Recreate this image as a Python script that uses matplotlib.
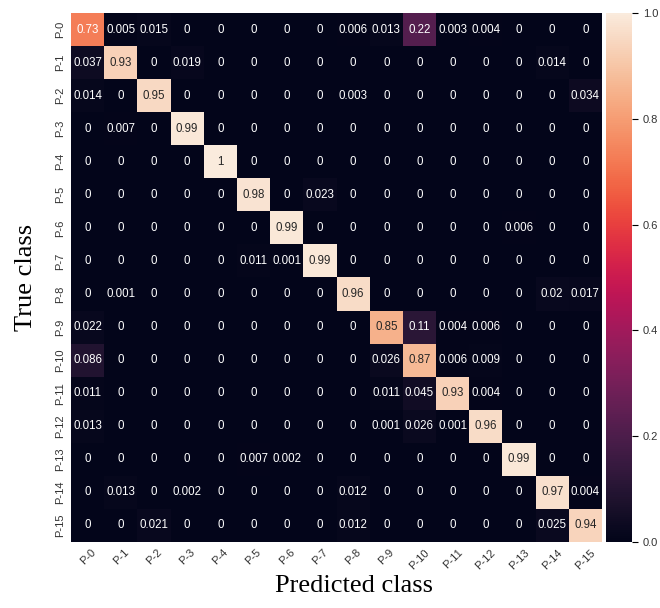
import numpy as np
import matplotlib
matplotlib.use("Agg")
import matplotlib.pyplot as plt
import seaborn as sns

labels = ["P-%d" % i for i in range(16)]

# confusion matrix rows = true class, cols = predicted class
row_p0 = [0.73, 0.005, 0.015, 0, 0, 0, 0, 0, 0.006, 0.013, 0.22, 0.003, 0.004, 0, 0, 0]
row_p1 = [0.037, 0.93, 0, 0.019, 0, 0, 0, 0, 0, 0, 0, 0, 0, 0, 0.014, 0]
row_p2 = [0.014, 0, 0.95, 0, 0, 0, 0, 0, 0.003, 0, 0, 0, 0, 0, 0, 0.034]
row_p3 = [0, 0.007, 0, 0.99, 0, 0, 0, 0, 0, 0, 0, 0, 0, 0, 0, 0]
row_p4 = [0, 0, 0, 0, 1, 0, 0, 0, 0, 0, 0, 0, 0, 0, 0, 0]
row_p5 = [0, 0, 0, 0, 0, 0.98, 0, 0.023, 0, 0, 0, 0, 0, 0, 0, 0]
row_p6 = [0, 0, 0, 0, 0, 0, 0.99, 0, 0, 0, 0, 0, 0, 0.006, 0, 0]
row_p7 = [0, 0, 0, 0, 0, 0.011, 0.001, 0.99, 0, 0, 0, 0, 0, 0, 0, 0]
row_p8 = [0, 0.001, 0, 0, 0, 0, 0, 0, 0.96, 0, 0, 0, 0, 0, 0.02, 0.017]
row_p9 = [0.022, 0, 0, 0, 0, 0, 0, 0, 0, 0.85, 0.11, 0.004, 0.006, 0, 0, 0]
row_p10 = [0.086, 0, 0, 0, 0, 0, 0, 0, 0, 0.026, 0.87, 0.006, 0.009, 0, 0, 0]
row_p11 = [0.011, 0, 0, 0, 0, 0, 0, 0, 0, 0.011, 0.045, 0.93, 0.004, 0, 0, 0]
row_p12 = [0.013, 0, 0, 0, 0, 0, 0, 0, 0, 0.001, 0.026, 0.001, 0.96, 0, 0, 0]
row_p13 = [0, 0, 0, 0, 0, 0.007, 0.002, 0, 0, 0, 0, 0, 0, 0.99, 0, 0]
row_p14 = [0, 0.013, 0, 0.002, 0, 0, 0, 0, 0.012, 0, 0, 0, 0, 0, 0.97, 0.004]
row_p15 = [0, 0, 0.021, 0, 0, 0, 0, 0, 0.012, 0, 0, 0, 0, 0, 0.025, 0.94]

cm = np.array([row_p0, row_p1, row_p2, row_p3, row_p4, row_p5, row_p6, row_p7,
               row_p8, row_p9, row_p10, row_p11, row_p12, row_p13, row_p14, row_p15])

plt.rcParams['font.family'] = ['Liberation Sans', 'DejaVu Sans']

fig = plt.figure(figsize=(6.6, 6.08), dpi=100)
ax = fig.add_axes([0.1076, 0.1086, 0.8045, 0.870])
cax = fig.add_axes([0.918, 0.1086, 0.040, 0.870])

sns.heatmap(cm, ax=ax, cbar_ax=cax, vmin=0, vmax=1, annot=True,
            annot_kws={"size": 8.3}, xticklabels=labels, yticklabels=labels)

ax.tick_params(length=0, labelsize=8, labelcolor="#333333", pad=4)
ax.set_xticklabels(labels, rotation=45)
ax.set_yticklabels(labels, rotation=90, va="center")
ax.set_xlabel("Predicted class", family="Liberation Serif", fontsize=19, labelpad=8)
ax.xaxis.set_label_coords(0.533, -0.062)
ax.set_ylabel("True class", family="Liberation Serif", fontsize=19, labelpad=13)
cax.tick_params(labelsize=8, length=4, labelcolor="#333333")

fig.savefig("out.png", dpi=100)
